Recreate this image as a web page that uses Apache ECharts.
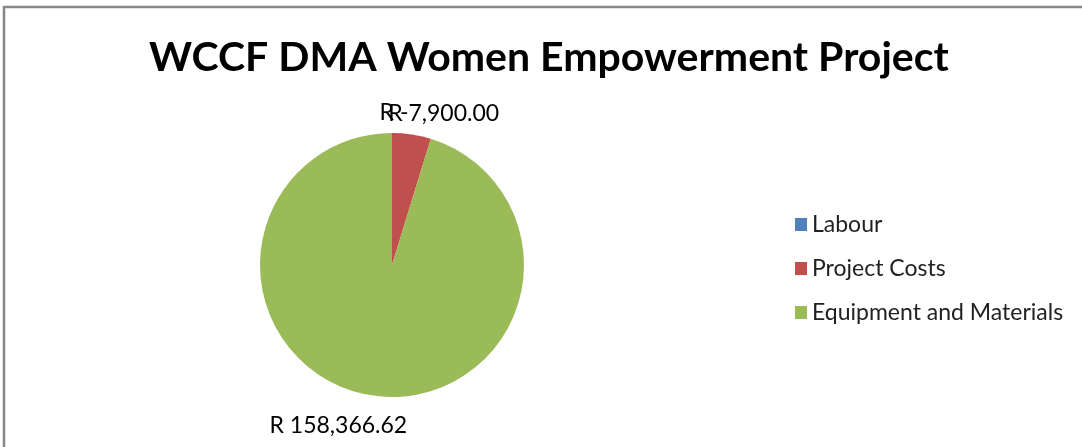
<!DOCTYPE html>
<html>
<head>
<meta charset="utf-8">
<script src="https://cdn.jsdelivr.net/npm/echarts@6/dist/echarts.min.js"></script>
<style>
  html, body { margin: 0; padding: 0; background: #fff; }
  #chart { width: 1082px; height: 447px; }
</style>
</head>
<body>
<div id="chart"></div>
<script>
// 数据
const categories = ['Labour', 'Project Costs', 'Equipment and Materials'];
const costValues = [0, 7900.0, 158366.62];
const sliceColors = ['#4F81BD', '#C0504D', '#9BBB59'];

// Excel 会计格式：0 显示为 "R -"
function fmtRand(v) {
  if (!v) return 'R -';
  return 'R ' + v.toLocaleString('en-US', { minimumFractionDigits: 2, maximumFractionDigits: 2 });
}

// 标签中心相对扇区边缘点的偏移（模仿 Excel 的最佳位置）
const labelShift = [[2, -20], [32, -21], [-34, 30]];

const chart = echarts.init(document.getElementById('chart'));
const font = 'Lato, Open Sans, sans-serif';

chart.setOption({
  animation: false,
  color: sliceColors,
  title: {
    text: 'WCCF DMA Women Empowerment Project',
    left: 144,
    top: 32,
    textStyle: { fontFamily: font, fontSize: 41, fontWeight: 'bold', color: '#000' }
  },
  legend: {
    orient: 'vertical',
    left: 790,
    top: 208,
    itemWidth: 12,
    itemHeight: 13,
    itemGap: 21,
    icon: 'rect',
    textStyle: { fontFamily: font, fontSize: 23, color: '#222' },
    data: categories
  },
  graphic: [{
    type: 'rect',
    shape: { x: 4, y: 7, width: 1200, height: 600 },
    style: { fill: 'none', stroke: '#878787', lineWidth: 2.5 },
    silent: true
  }],
  series: [{
    type: 'pie',
    center: [392, 265],
    radius: 132,
    startAngle: 90,
    clockwise: true,
    stillShowZeroSum: true,
    label: {
      show: true,
      position: 'outside',
      formatter: (p) => fmtRand(p.value),
      fontFamily: font,
      fontSize: 23,
      color: '#000'
    },
    labelLine: { show: true, length: 0, length2: 0, lineStyle: { width: 0, opacity: 0 } },
    labelLayout: function (params) {
      const s = labelShift[params.dataIndex];
      const pts = params.labelLinePoints;
      if (!pts) return { dx: s[0], dy: s[1] };
      return {
        x: pts[0][0] + s[0],
        y: pts[0][1] + s[1],
        align: 'center',
        verticalAlign: 'middle'
      };
    },
    itemStyle: { borderWidth: 0 },
    emphasis: { disabled: true },
    data: categories.map((name, i) => ({ name: name, value: costValues[i] }))
  }]
});
</script>
</body>
</html>
